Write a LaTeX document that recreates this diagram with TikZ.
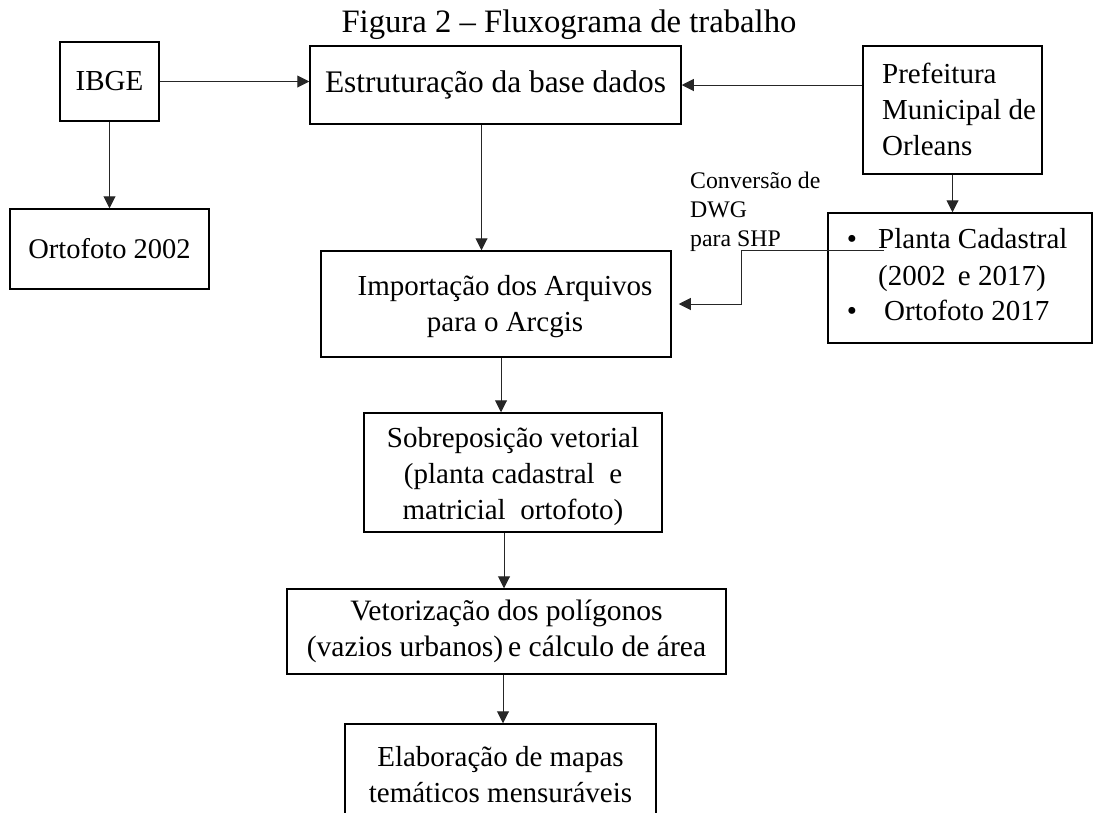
\documentclass[tikz,border=0pt]{standalone}
\usepackage{fontspec}
\setmainfont{Liberation Serif}
\usetikzlibrary{arrows.meta,calc}
\begin{document}
\begin{tikzpicture}[x=1pt,y=-1pt,
 box/.style={draw, line width=1.5pt, inner sep=0pt, align=center, font=\fontsize{29}{36}\selectfont},
 txt/.style={inner sep=0pt, font=\fontsize{29}{36}\selectfont},
 arr/.style={draw=black!85, line width=1pt, -{Triangle[length=12pt,width=12pt]}}
]
\useasboundingbox (0,0) rectangle (1094,812);
\fill[white] (0,0) rectangle (1094,812);

\node[inner sep=0pt, anchor=base, font=\fontsize{32.7}{36}\selectfont] (title) at (569,32) {Figura 2 – Fluxograma de trabalho};

\node[box, font=\fontsize{29}{36}\selectfont, minimum width=99pt, minimum height=79pt] (ibge) at (109.5,81.5) {IBGE};
\node[box, font=\fontsize{28.5}{36}\selectfont, minimum width=199pt, minimum height=80pt] (orto) at (109.5,249) {Ortofoto 2002};
\node[box, font=\fontsize{31.4}{36}\selectfont, minimum width=371pt, minimum height=78pt] (estr) at (495.5,85) {Estruturação da base dados};
\node[box, minimum width=179pt, minimum height=128pt] (pref) at (952.5,110) {};
\node[txt, anchor=base west, align=left] (preft) at (882,155) {Prefeitura\\Municipal de\\Orleans};
\node[box, minimum width=264pt, minimum height=130pt] (planta) at (960,278) {};
\node[txt, anchor=base] (b1) at (852,248) {•};
\node[txt, anchor=base west] (pl1) at (878,248) {Planta Cadastral};
\node[txt, anchor=base west] (pl2) at (878,285) {(2002\, e 2017)};
\node[txt, anchor=base] (b2) at (852,320) {•};
\node[txt, anchor=base west] (pl3) at (884,320) {Ortofoto 2017};
\node[box, minimum width=350pt, minimum height=106pt] (imp) at (496,304) {};
\node[txt, align=center] (impt) at (505,307) {Importação dos Arquivos\\para o Arcgis};
\node[box, minimum width=298pt, minimum height=119pt] (sobre) at (513,472.5) {};
\node[txt, align=center] (sobret) at (513,477) {Sobreposição vetorial\\(planta cadastral\ \ e\\matricial\ \ ortofoto)};
\node[box, font=\fontsize{29.6}{36}\selectfont, minimum width=439pt, minimum height=85pt] (vetor) at (506.5,631.5) {Vetorização dos polígonos\\(vazios urbanos)\,e cálculo de área};
\node[box, minimum width=311pt, minimum height=102pt] (elab) at (500.5,775) {Elaboração de mapas\\temáticos mensuráveis};

\node[inner sep=0pt, anchor=base west, align=left, font=\fontsize{23.8}{29}\selectfont] (conv) at (690,246) {Conversão de\\DWG\\para SHP};

\draw[arr] (ibge.east) -- (estr.west |- ibge.east);
\draw[arr] (ibge.south) -- (orto.north);
\draw[arr] (pref.west |- estr.west) -- (estr.east);
\draw[arr] ([xshift=-14pt]estr.south) -- ([xshift=-14pt]estr.south |- imp.north);
\draw[arr] (pref.south) -- (pref.south |- planta.north);
\coordinate (cs) at (884,250);
\draw[arr] (cs) -- (741,250) |- ([xshift=7pt]imp.east);
\draw[arr] ([xshift=5pt]imp.south) -- ([xshift=5pt]imp.south |- sobre.north);
\draw[arr] ([xshift=-9pt]sobre.south) -- ([xshift=-9pt]sobre.south |- vetor.north);
\draw[arr] ([xshift=-3.5pt]vetor.south) -- ([xshift=-3.5pt]vetor.south |- elab.north);
\end{tikzpicture}
\end{document}
